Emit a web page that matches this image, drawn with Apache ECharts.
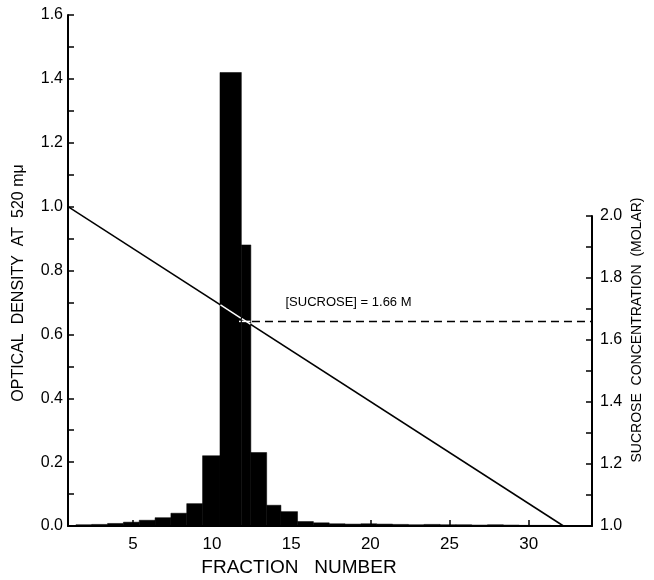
<!DOCTYPE html>
<html><head><meta charset="utf-8">
<script src="https://cdn.jsdelivr.net/npm/echarts@6/dist/echarts.min.js"></script>
<style>html,body{margin:0;padding:0;background:#fff}#c{width:654px;height:580px}</style>
</head><body><div id="c"></div>
<script>
// Histogram bin edges (fraction number) and optical density per bin
const binEdges = [1.4,2.4,3.4,4.4,5.4,6.4,7.4,8.4,9.4,10.5,11.85,12.45,13.45,14.35,15.4,16.4,17.4,18.4,19.4,20.4,21.4,22.4,23.4,24.4,25.4,26.4,27.4,28.4,29.4,30.4,31.4];
const opticalDensity = [0.004,0.005,0.008,0.012,0.018,0.026,0.04,0.07,0.22,1.42,0.88,0.23,0.065,0.045,0.014,0.01,0.007,0.006,0.007,0.006,0.005,0.004,0.005,0.004,0.004,0.003,0.004,0.003,0.002,0.002];
// Sucrose gradient (fraction, molar)
const sucroseX = [0.9, 32.2];
const sucroseM = [2.03, 1.0];
// Dashed marker of peak sucrose concentration
const peakX = [11.7, 34];
const peakM = [1.66, 1.66];
const peakLabel = '[SUCROSE] = 1.66 M';
// Tick labels
const xTicks = [5,10,15,20,25,30];
const xMin = 0.9, xMax = 34;

const barData = opticalDensity.map((v,i)=>[binEdges[i], binEdges[i+1], v]);
const FONT = 'Liberation Sans';
const H = 580, G1 = {top:15, bottom:54}, G2 = {top:216, bottom:54};
const H1 = H - G1.top - G1.bottom, H2 = H - G2.top - G2.bottom;
// sucrose value -> equivalent OD value in grid 1 (same pixel height)
const odEq = m => (m - 1.0) / 1.0 * H2 / H1 * 1.6;

function clipSeg(a, b, r) {
  // Liang-Barsky clip of segment a->b to rect r {x0,y0,x1,y1}
  let t0 = 0, t1 = 1;
  const dx = b[0]-a[0], dy = b[1]-a[1];
  const p = [-dx, dx, -dy, dy];
  const q = [a[0]-r.x0, r.x1-a[0], a[1]-r.y0, r.y1-a[1]];
  for (let i=0;i<4;i++){
    if (p[i] === 0) { if (q[i] < 0) return null; }
    else {
      const t = q[i]/p[i];
      if (p[i] < 0) { if (t > t1) return null; if (t > t0) t0 = t; }
      else { if (t < t0) return null; if (t < t1) t1 = t; }
    }
  }
  if (t1 - t0 < 1e-6) return null;
  return [[a[0]+t0*dx, a[1]+t0*dy],[a[0]+t1*dx, a[1]+t1*dy]];
}

const chart = echarts.init(document.getElementById('c'));
const axisLineStyle = {color:'#000', width:2};
chart.setOption({
  backgroundColor:'#fff',
  animation:false,
  grid:[
    {left:68, right:62, top:G1.top, bottom:G1.bottom},
    {left:68, right:62, top:G2.top, bottom:G2.bottom}
  ],
  xAxis:[
    {type:'value', gridIndex:0, min:xMin, max:xMax, splitLine:{show:false},
     axisLine:{lineStyle:axisLineStyle},
     axisTick:{inside:true, length:6, lineStyle:{color:'#000',width:1.5}, customValues:xTicks},
     axisLabel:{customValues:xTicks, color:'#000', fontSize:17, fontFamily:FONT, margin:10}},
    {type:'value', gridIndex:1, min:xMin, max:xMax, show:false}
  ],
  yAxis:[
    {type:'value', gridIndex:0, min:0, max:1.6, interval:0.2, splitLine:{show:false},
     axisLine:{show:true, lineStyle:axisLineStyle},
     axisTick:{show:true, inside:true, length:6, lineStyle:{color:'#000',width:1.5}},
     minorTick:{show:true, splitNumber:2, length:6, lineStyle:{color:'#000',width:1.5}},
     axisLabel:{color:'#000', fontSize:16, fontFamily:FONT, margin:5, formatter:v=>v.toFixed(1)}},
    {type:'value', gridIndex:1, position:'right', min:1.0, max:2.0, interval:0.2, splitLine:{show:false},
     axisLine:{show:true, lineStyle:axisLineStyle},
     axisTick:{show:true, inside:true, length:6, lineStyle:{color:'#000',width:1.5}},
     minorTick:{show:true, splitNumber:2, length:6, lineStyle:{color:'#000',width:1.5}},
     axisLabel:{color:'#000', fontSize:16, fontFamily:FONT, margin:8, formatter:v=>v.toFixed(1)}}
  ],
  graphic:[
    {type:'text', rotation:Math.PI/2, x:19, y:283, style:{text:'OPTICAL  DENSITY  AT  520 mμ', font:'16px '+FONT, fill:'#000', textAlign:'center', textVerticalAlign:'middle'}},
    {type:'text', rotation:Math.PI/2, x:637, y:330, style:{text:'SUCROSE  CONCENTRATION  (MOLAR)', font:'14px '+FONT, fill:'#000', textAlign:'center', textVerticalAlign:'middle'}},
    {type:'text', x:299, y:568, style:{text:'FRACTION   NUMBER', font:'19px '+FONT, fill:'#000', textAlign:'center', textVerticalAlign:'middle'}}
  ],
  series:[
    {type:'custom', xAxisIndex:0, yAxisIndex:0, z:4, data:barData,
     renderItem:(params, api)=>{
       const p0 = api.coord([api.value(0), api.value(2)]);
       const p1 = api.coord([api.value(1), 0]);
       const r = {x0:p0[0], y0:p0[1], x1:p1[0], y1:p1[1]};
       const children = [{type:'rect', shape:{x:r.x0, y:r.y0, width:r.x1-r.x0, height:r.y1-r.y0}, style:{fill:'#000', stroke:'#000', lineWidth:0.5}}];
       // white where the gradient lines pass through the black bar
       const segs = [
         [api.coord([sucroseX[0], odEq(sucroseM[0])]), api.coord([sucroseX[1], odEq(sucroseM[1])])],
         [api.coord([peakX[0], odEq(peakM[0])]), api.coord([peakX[1], odEq(peakM[1])])]
       ];
       const inner = {x0:r.x0+0.5, y0:r.y0+0.5, x1:r.x1-0.5, y1:r.y1-0.5};
       segs.forEach(s=>{
         const c = clipSeg(s[0], s[1], inner);
         if (c) children.push({type:'line', shape:{x1:c[0][0], y1:c[0][1], x2:c[1][0], y2:c[1][1]}, style:{stroke:'#fff', lineWidth:1.5}});
       });
       return {type:'group', children};
     }},
    {type:'line', xAxisIndex:1, yAxisIndex:1, z:3, clip:false, symbol:'none',
     data:sucroseX.map((x,i)=>[x, sucroseM[i]]),
     lineStyle:{color:'#000', width:1.5}},
    {type:'line', xAxisIndex:1, yAxisIndex:1, z:3, clip:false, symbol:'circle', symbolSize:1,
     itemStyle:{color:'#000'},
     data:peakX.map((x,i)=>({value:[x, peakM[i]], label:{show:i===0, formatter:peakLabel, position:[47,-18], align:'left', verticalAlign:'middle', color:'#000', fontSize:13, fontFamily:FONT}})),
     lineStyle:{color:'#000', width:1.5, type:[8,5]}}
  ]
});
</script></body></html>
